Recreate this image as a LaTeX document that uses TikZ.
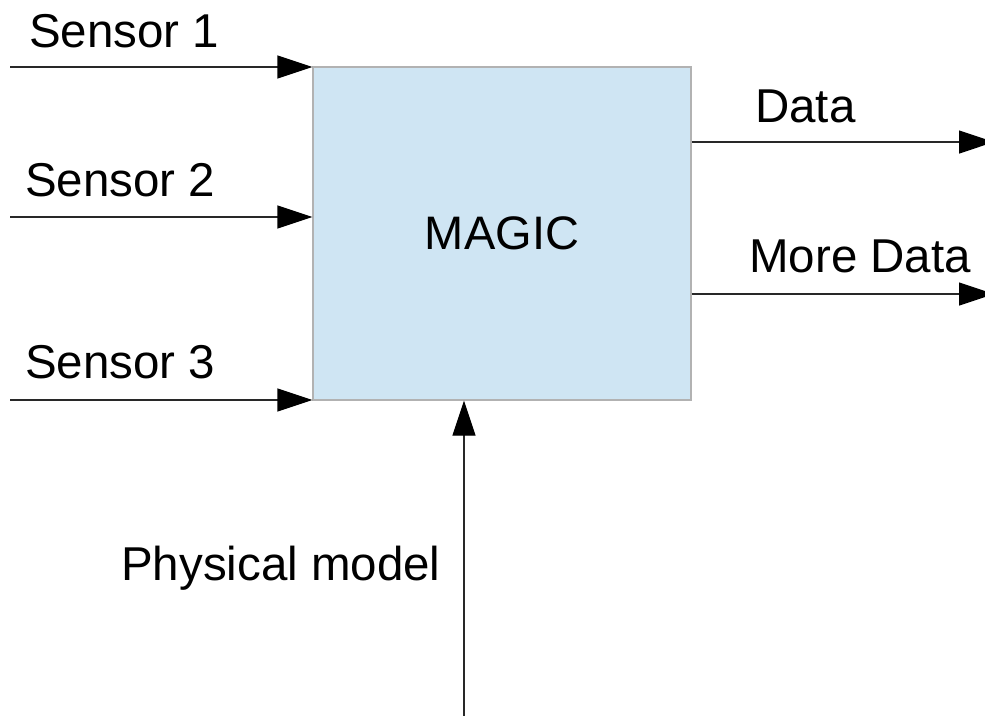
\documentclass[tikz,border=0pt]{standalone}
\usepackage{fontspec}
\setmainfont{Liberation Sans}
\usetikzlibrary{arrows.meta,calc}
\definecolor{boxfill}{RGB}{207,229,243}
\definecolor{boxline}{RGB}{178,178,178}
\definecolor{wire}{RGB}{40,40,40}
\tikzset{
  label text/.style={font=\fontsize{47.5}{57}\selectfont, inner sep=0pt, anchor=base west},
  flow/.style={draw=wire, line width=1.2pt, -{Triangle[length=35pt,width=23pt,color=black]}},
  block/.style={rectangle, draw=boxline, line width=1.2pt, fill=boxfill,
    minimum width=378pt, minimum height=333pt, inner sep=0pt,
    font=\fontsize{47}{56}\selectfont}
}
\begin{document}
\begin{tikzpicture}[x=1pt,y=-1pt]
  \useasboundingbox (0,0) rectangle (985,715);
  \clip (0,0) rectangle (985,715);
  \fill[white] (0,0) rectangle (985,715);

  % central block
  \node[block] (magic) at (502,233.5) {MAGIC};

  % input and output end points
  \coordinate (in1) at (10,67);
  \coordinate (in2) at (10,217);
  \coordinate (in3) at (10,400);
  \coordinate (out1) at (994,142);
  \coordinate (out2) at (994,294);
  \coordinate (model) at (464,720);

  % sensor inputs
  \draw[flow] (in1) -- (in1 -| magic.west);
  \draw[flow] (in2) -- (in2 -| magic.west);
  \draw[flow] (in3) -- (in3 -| magic.west);

  % outputs
  \draw[flow] (out1 -| magic.east) -- (out1);
  \draw[flow] (out2 -| magic.east) -- (out2);

  % physical model input from below
  \draw[flow] (model) -- (model |- magic.south);

  % labels
  \node[label text] (t1) at (29,47) {Sensor 1};
  \node[label text] (t2) at (25,196) {Sensor 2};
  \node[label text] (t3) at (25,378) {Sensor 3};
  \node[label text] (t4) at (755,122) {Data};
  \node[label text] (t5) at (749,272) {More Data};
  \node[label text] (t6) at (121,580) {Physical model};
\end{tikzpicture}
\end{document}
